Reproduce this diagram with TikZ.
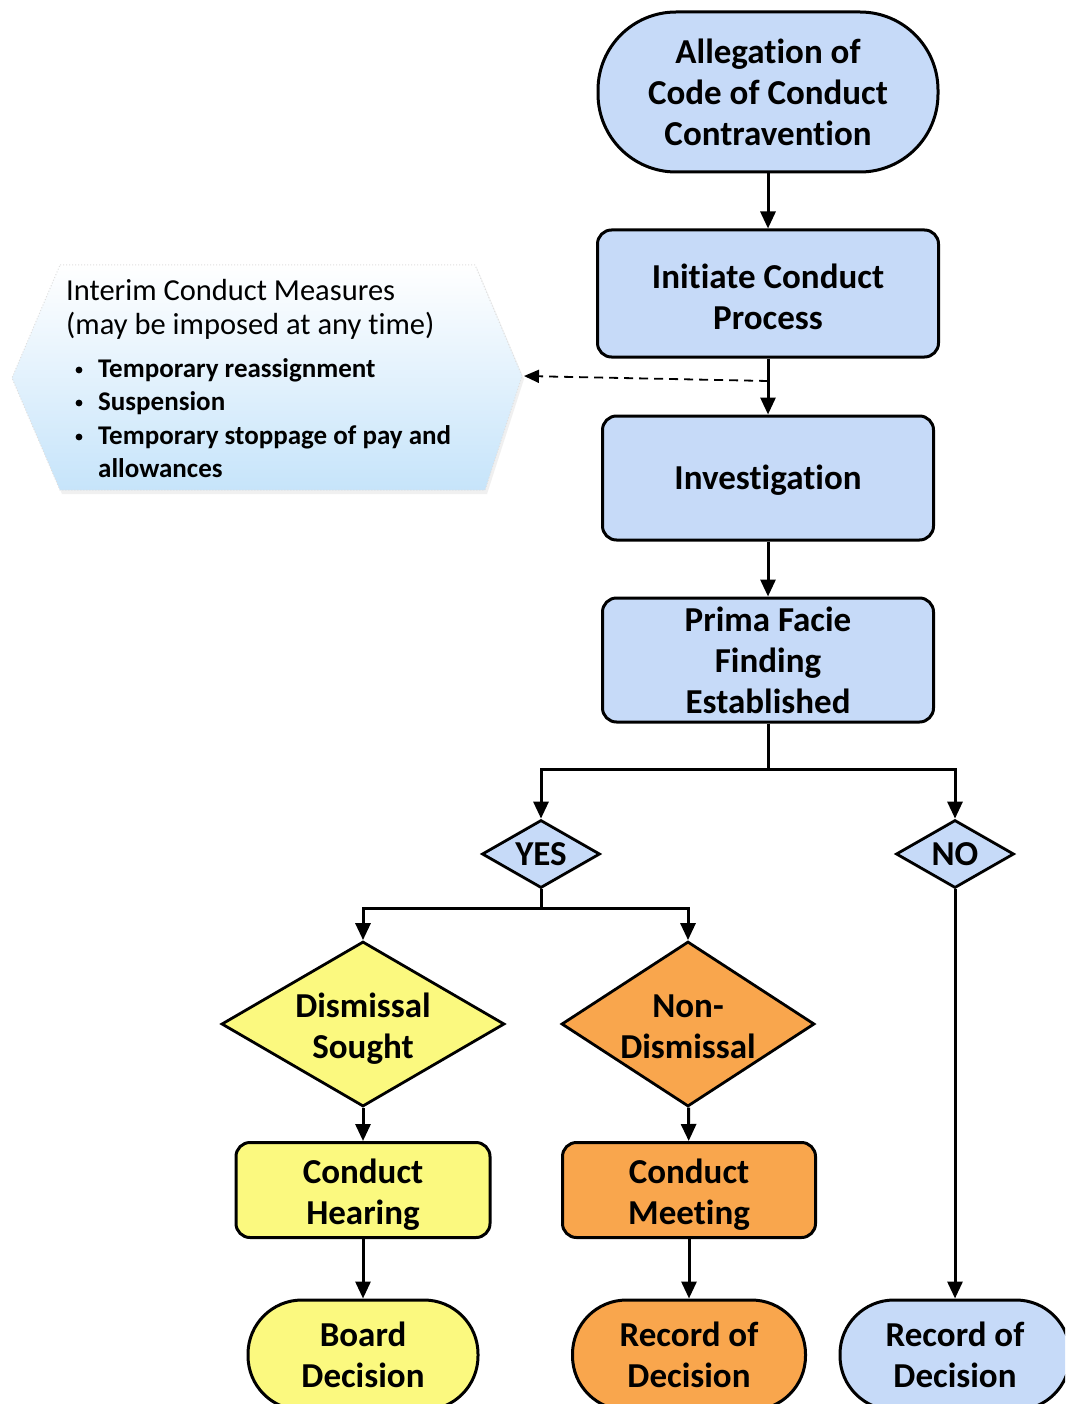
\documentclass[tikz,border=0pt]{standalone}
\usepackage{fontspec}
\setmainfont{Carlito}[Ligatures=NoCommon]
\usetikzlibrary{arrows.meta,shapes.geometric,calc}
\definecolor{cblue}{HTML}{C6DAF8}
\definecolor{cyel}{HTML}{FBF97F}
\definecolor{corg}{HTML}{F9A64D}
\definecolor{cshade}{HTML}{C6E4FA}
\tikzset{
  tx/.style={align=center, inner sep=0pt, font=\fontsize{35}{41}\selectfont\bfseries},
  box/.style={draw=black, line width=3pt, rounded corners=14pt, inner sep=0pt},
  term/.style={draw=black, line width=3pt, inner sep=0pt},
  dia/.style={diamond, draw=black, line width=2.8pt, inner sep=0pt},
  arr/.style={line width=3pt, -{Triangle[length=17pt,width=15pt]}},
  dasharr/.style={line width=1.8pt, dash pattern=on 9pt off 6pt, -{Triangle[length=15pt,width=13pt]}},
  itxt/.style={inner sep=0pt, anchor=west},
}
\begin{document}
\begin{tikzpicture}[x=1pt,y=-1pt]
\clip (0,0) rectangle (1065,1404);
\fill[white] (0,0) rectangle (1065,1404);
% interim hexagon
\fill[gray!12] (62,268) -- (477,268) -- (524,379) -- (487,494) -- (62,494) -- (14,381) -- cycle;
\path[draw=gray!25, dotted, line width=1pt, top color=white, middle color=white, bottom color=cshade]
  (60,265) -- (475,265) -- (522,376) -- (485,490) -- (60,490) -- (12,378) -- cycle;
\coordinate (hexE) at (524,376);
\node[itxt, font=\fontsize{30.5}{36}\selectfont] (it1) at (66,290) {Interim Conduct Measures};
\node[itxt, font=\fontsize{30.5}{36}\selectfont] (it2) at (66,326) {(may be imposed at any time)};
\foreach \yy/\tt/\nm in {370/Temporary reassignment/b1, 403/Suspension/b2, 437/Temporary stoppage of pay and/b3} {
  \node[itxt, font=\fontsize{27}{30}\selectfont\bfseries] (\nm) at (98,\yy) {\tt};
  \fill (79,\yy) circle (3.4pt);
}
\node[itxt, font=\fontsize{27}{30}\selectfont\bfseries] (b4) at (98,468) {allowances};
% main nodes
\node[term, fill=cblue, minimum width=340, minimum height=160, rounded corners=78pt,
  label={[tx]center:{Allegation of\\Code of Conduct\\Contravention}}] (alleg) at (768,92) {};
\node[box, fill=cblue, minimum width=341, minimum height=127,
  label={[tx,yshift=-3pt]center:{Initiate Conduct\\Process}}] (init) at (768,293.5) {};
\node[box, fill=cblue, minimum width=331, minimum height=124,
  label={[tx,yshift=-2pt]center:{Investigation}}] (inv) at (768,478) {};
\node[box, fill=cblue, minimum width=331, minimum height=124,
  label={[tx]center:{Prima Facie\\Finding\\Established}}] (prima) at (768,660) {};
\node[dia, fill=cblue, minimum width=118, minimum height=68,
  label={[tx]center:{YES}}] (yes) at (541,854) {};
\node[dia, fill=cblue, minimum width=118, minimum height=68,
  label={[tx]center:{NO}}] (no) at (955,854) {};
\node[dia, fill=cyel, minimum width=283, minimum height=165,
  label={[tx,yshift=-5pt]center:{Dismissal\\Sought}}] (dis) at (363,1024) {};
\node[dia, fill=corg, minimum width=253, minimum height=165,
  label={[tx,yshift=-3pt]center:{Non-\\Dismissal}}] (nondis) at (688,1024) {};
\node[box, fill=cyel, minimum width=254, minimum height=95,
  label={[tx,yshift=-5pt]center:{Conduct\\Hearing}}] (hear) at (363,1190) {};
\node[box, fill=corg, minimum width=253, minimum height=95,
  label={[tx,yshift=-5pt]center:{Conduct\\Meeting}}] (meet) at (689,1190) {};
\node[term, fill=cyel, minimum width=230, minimum height=110, rounded corners=54pt,
  label={[tx]center:{Board\\Decision}}] (board) at (363,1355) {};
\node[term, fill=corg, minimum width=233, minimum height=110, rounded corners=54pt,
  label={[tx]center:{Record of\\Decision}}] (reco) at (689,1355) {};
\node[term, fill=cblue, minimum width=230, minimum height=110, rounded corners=54pt,
  label={[tx]center:{Record of\\Decision}}] (recb) at (955,1355) {};
% connectors
\coordinate (dj) at (768,381);
\draw[dasharr] (dj) -- (hexE);
\draw[arr] (alleg) -- (init);
\draw[arr] (init) -- (inv);
\draw[arr] (inv) -- (prima);
\draw[arr] (prima.south) -- ++(0,46) -| (yes.north);
\draw[arr] (prima.south) -- ++(0,46) -| (no.north);
\draw[arr] (yes.south) -- ++(0,19) -| (dis.north);
\draw[arr] (yes.south) -- ++(0,19) -| (nondis.north);
\draw[arr] (dis) -- (hear);
\draw[arr] (nondis) -- (meet);
\draw[arr] (hear) -- (board);
\draw[arr] (meet) -- (reco);
\draw[arr] (no) -- (recb);
\end{tikzpicture}
\end{document}
